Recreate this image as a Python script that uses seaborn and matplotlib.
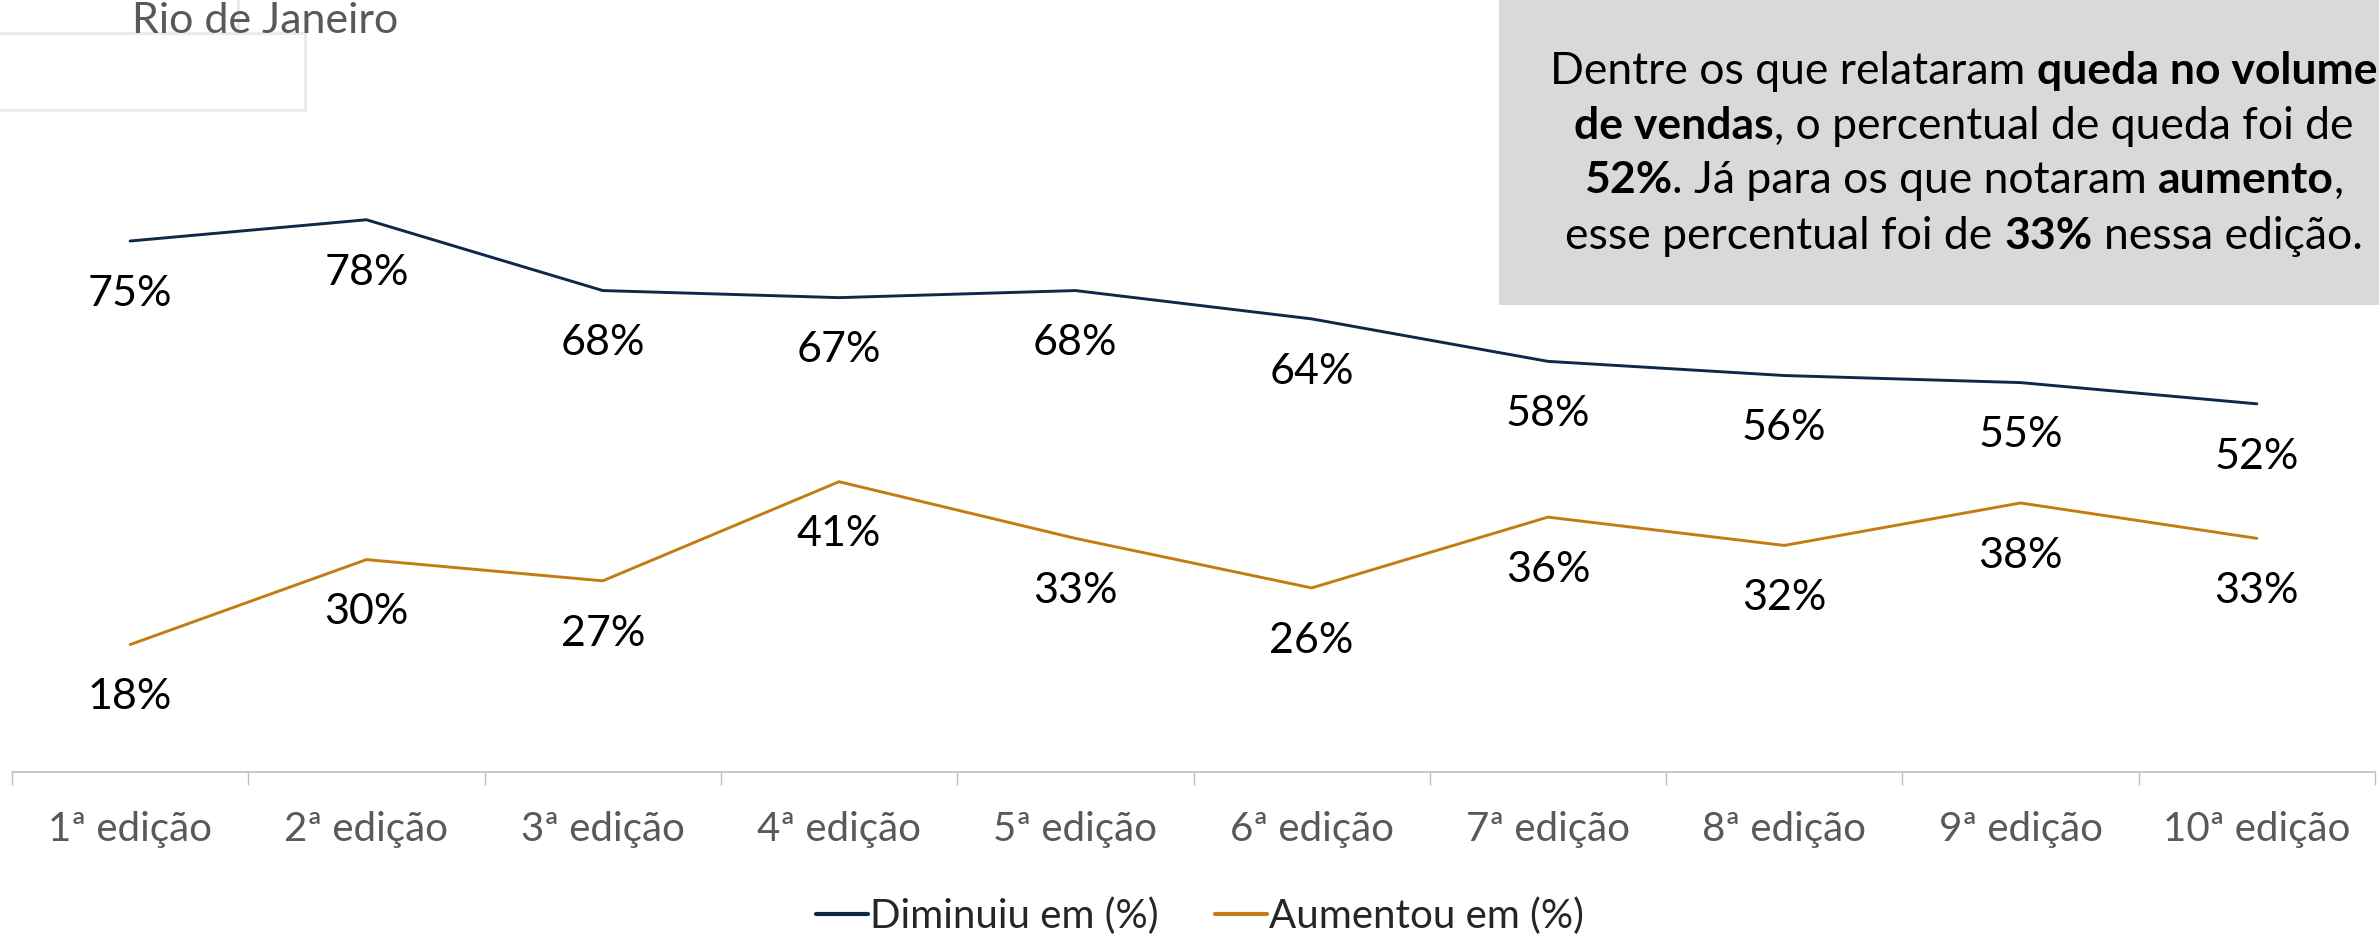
import numpy as np
import pandas as pd
import seaborn as sns
import matplotlib.pyplot as plt
from matplotlib.patches import Rectangle

# Dados
edicoes = ["1ª edição", "2ª edição", "3ª edição", "4ª edição", "5ª edição",
           "6ª edição", "7ª edição", "8ª edição", "9ª edição", "10ª edição"]
diminuiu = [75, 78, 68, 67, 68, 64, 58, 56, 55, 52]
aumentou = [18, 30, 27, 41, 33, 26, 36, 32, 38, 33]
series = ["Diminuiu em (%)", "Aumentou em (%)"]
cores = {"Diminuiu em (%)": "#0F2748", "Aumentou em (%)": "#C27C12"}

df = pd.DataFrame({"pos": range(len(edicoes)), "edicao": edicoes,
                   series[0]: diminuiu, series[1]: aumentou})
long_df = df.melt(id_vars=["pos", "edicao"], value_vars=series,
                  var_name="serie", value_name="pct")

sns.set_style("white")
plt.rcParams['font.family'] = ['Lato', 'DejaVu Sans']
FS = 29        # eixos e legenda
FS_LAB = 31    # rótulos de dados
FS_BOX = 32    # texto da caixa

W, H = 2379, 936
fig = plt.figure(figsize=(W / 100, H / 100), dpi=100)
ax = fig.add_axes([12 / W, 1 - 772 / H, (2375 - 12) / W, 708 / H])

sns.lineplot(data=long_df, x="pos", y="pct", hue="serie", palette=cores,
             linewidth=2.1, ax=ax)

# rótulos de dados abaixo de cada ponto
for _, row in long_df.iterrows():
    ax.annotate(f"{row['pct']}%", (row["pos"], row["pct"]),
                xytext=(0, -38), textcoords="offset points",
                ha="center", va="center", fontsize=FS_LAB, color="black")

ax.set_xlim(-0.5, len(edicoes) - 0.5)
ax.set_ylim(0, 100)
ax.set_xticks(range(len(edicoes)))
ax.set_xticklabels(edicoes, fontsize=FS, color="#595959")
ax.set_xticks(np.arange(-0.5, len(edicoes)), minor=True)
ax.tick_params(axis="x", which="major", length=0, pad=28)
ax.tick_params(axis="x", which="minor", length=9.5, width=1, color="#BFBFBF",
               direction="out", bottom=True)
ax.set_yticks([])
ax.set_xlabel("")
ax.set_ylabel("")
for s in ["left", "right", "top"]:
    ax.spines[s].set_visible(False)
ax.spines["bottom"].set_color("#BFBFBF")
ax.spines["bottom"].set_linewidth(1.2)

handles, labels = ax.get_legend_handles_labels()
ax.get_legend().remove()
leg = fig.legend(handles, labels, loc="center", bbox_to_anchor=(1200 / W, 1 - 916 / H),
                 ncol=2, frameon=False, fontsize=FS, handlelength=1.3,
                 handletextpad=0.05, columnspacing=1.4)
for line in leg.get_lines():
    line.set_linewidth(3)

# molduras cinza decorativas no canto superior esquerdo
fig.patches.append(Rectangle((-0.01, 1 - 33 / H), 238 / W + 0.01, 0.1,
                             transform=fig.transFigure, fill=False,
                             edgecolor="#EBEBEB", linewidth=2.2, zorder=0))
fig.patches.append(Rectangle((-0.01, 1 - 110 / H), 305 / W + 0.01, 77 / H,
                             transform=fig.transFigure, fill=False,
                             edgecolor="#EBEBEB", linewidth=2.2, zorder=0))
fig.text(132 / W, 1 - 33 / H, "Rio de Janeiro", fontsize=31, color="#595959",
         ha="left", va="baseline", zorder=5)

# caixa de destaque
fig.patches.append(Rectangle((1499 / W, 1 - 305 / H), 0.5, 0.5,
                             transform=fig.transFigure, facecolor="#D9D9D9",
                             edgecolor="none", zorder=1))

linhas = [
    [("Dentre os que relataram ", "normal"), ("queda no volume", "bold")],
    [("de vendas", "bold"), (", o percentual de queda foi de", "normal")],
    [("52%", "bold"), (". Já para os que notaram ", "normal"), ("aumento", "bold"), (",", "normal")],
    [("esse percentual foi de ", "normal"), ("33%", "bold"), (" nessa edição.", "normal")],
]
baselines = [84, 139, 193, 249]
centro_x = 1964

renderer = fig.canvas.get_renderer()


def largura(s, peso):
    def w(txt):
        t = fig.text(0, 0, txt, fontsize=FS_BOX, fontweight=peso)
        bb = t.get_window_extent(renderer).width
        t.remove()
        return bb
    return w("|" + s + "|") - w("||")


for segs, base in zip(linhas, baselines):
    larguras = [largura(s, p) for s, p in segs]
    x = centro_x - sum(larguras) / 2
    for (s, p), wd in zip(segs, larguras):
        lead = len(s) - len(s.lstrip(" "))
        off = largura(" " * lead, p) if lead else 0
        fig.text((x + off) / W, 1 - base / H, s.strip(" "), fontsize=FS_BOX,
                 fontweight=p, color="black", ha="left", va="baseline", zorder=3)
        x += wd

fig.savefig("out.png", dpi=100)
plt.close()
